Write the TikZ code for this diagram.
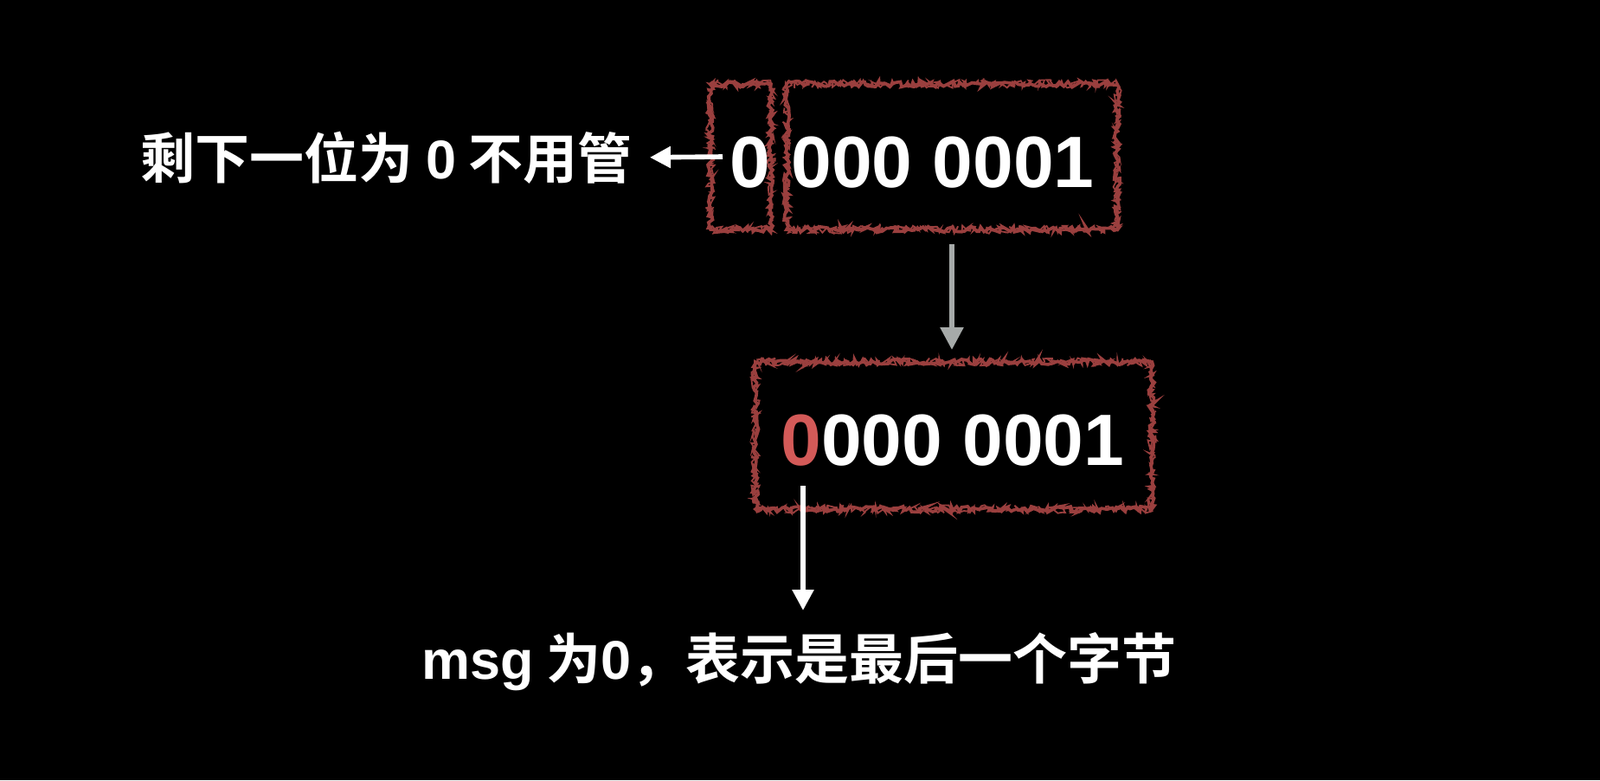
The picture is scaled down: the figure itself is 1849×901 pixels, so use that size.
\documentclass[tikz,border=0pt]{standalone}
\usepackage{fontspec}
\setmainfont{Liberation Sans}
\newfontfamily\cjkf{Noto Sans CJK SC}[BoldFont={* Bold}]
\newfontfamily\latf{Liberation Sans}
\usetikzlibrary{arrows.meta,decorations.pathmorphing}
\definecolor{sk}{HTML}{9A3F3E}
\definecolor{redzero}{HTML}{D35A58}
\definecolor{garr}{HTML}{A6AAA9}
\tikzset{
  sketch/.style={draw=sk, line width=1.8pt, decorate,
    decoration={random steps, segment length=1.6pt, amplitude=1.7pt}},
  sketchb/.style={draw=sk, line width=0.9pt, decorate,
    decoration={random steps, segment length=1.1pt, amplitude=2.4pt}},
  boxn/.style={inner sep=0pt, outer sep=0pt},
  bignum/.style={inner sep=0pt, anchor=base west, text=white, font=\latf\bfseries\fontsize{42}{44}\selectfont},
  label/.style={inner sep=0pt, text=white, font=\cjkf\bfseries\fontsize{31.5}{33}\selectfont},
  warrow/.style={draw=white, line width=2.8pt, -{Triangle[length=12pt,width=12pt]}},
  garrow/.style={draw=garr, line width=2.8pt, -{Triangle[length=13pt,width=13pt]}}
}
\begin{document}
\begin{tikzpicture}[x=0.5pt,y=-0.5pt]
\fill[black] (0,0) rectangle (1849,901);
\useasboundingbox (0,0) rectangle (1849,901);
% boxes
\node[boxn, minimum width=35pt, minimum height=84pt] (b1) at (856,181) {};
\node[boxn, minimum width=191pt, minimum height=84pt] (b2) at (1100,181) {};
\node[boxn, minimum width=229pt, minimum height=85pt] (b3) at (1102,503) {};
\foreach \b in {b1,b2,b3}{
  \draw[sketch] (\b.north west) rectangle (\b.south east);
  \draw[sketchb] (\b.north west) rectangle (\b.south east);
}
% numbers
\node[bignum] (n0) at (843,216) {0};
\node[bignum] (n1) at (914,216) {000 0001};
\node[bignum] (n2) at (902,537) {\textcolor{redzero}{0}000 0001};
% labels
\node[label, anchor=base east] (lbl) at (731,206) {剩下一位为 {\latf\bfseries 0} 不用管};
\node[label, anchor=base west] (msg) at (487,784) {{\latf\bfseries msg} 为{\latf\bfseries 0}，表示是最后一个字节};
% arrows
\draw[warrow] ([xshift=7pt]b1.west) -- ([xshift=10pt]lbl.east);
\draw[garrow, shorten <=8.5pt, shorten >=7pt] (b2.south) -- (b2.south |- b3.north);
\coordinate (a0) at (928,561);
\draw[warrow] (a0) -- (a0 |- 0,705);
\end{tikzpicture}
\end{document}
